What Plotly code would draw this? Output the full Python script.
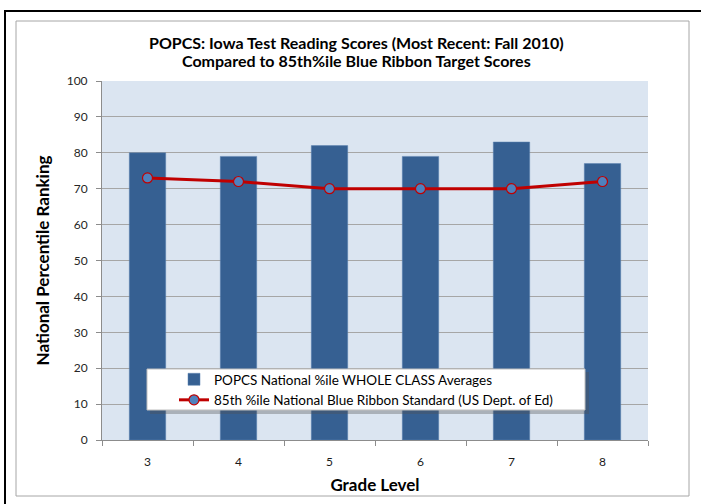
import plotly.graph_objects as go

grades = ["3", "4", "5", "6", "7", "8"]
class_avg = [80, 79, 82, 79, 83, 77]
blue_ribbon = [73, 72, 70, 70, 70, 72]
y_ticks = [0, 10, 20, 30, 40, 50, 60, 70, 80, 90, 100]
title_lines = ["POPCS: Iowa Test Reading Scores (Most Recent: Fall 2010)",
               "Compared to 85th%ile Blue Ribbon Target Scores"]

W, H = 701, 504
L, R, T, B = 102, 53, 81, 64
PW, PH = W - L - R, H - T - B

def px(x):
    return (x - L) / PW

def py(y):
    return (H - B - y) / PH

FONT = "Lato, 'Open Sans', sans-serif"

fig = go.Figure()
fig.add_trace(go.Bar(
    x=grades, y=class_avg,
    name="POPCS National %ile WHOLE CLASS Averages",
    marker=dict(color="#366092", line=dict(color="#5a80b0", width=0.5)),
))
fig.add_trace(go.Scatter(
    x=grades, y=blue_ribbon, mode="lines+markers",
    name="85th %ile National Blue Ribbon Standard (US Dept. of Ed)",
    line=dict(color="#c00000", width=3),
    marker=dict(color="#4f81bd", size=10, line=dict(color="#c00000", width=1.2)),
))

shapes = [
    dict(type="line", xref="paper", yref="paper", x0=px(4), x1=px(702), y0=py(11), y1=py(11),
         line=dict(color="black", width=2), layer="below"),
    dict(type="line", xref="paper", yref="paper", x0=px(5), x1=px(5), y0=py(10), y1=py(505),
         line=dict(color="black", width=2), layer="below"),
    dict(type="rect", xref="paper", yref="paper", x0=px(16), x1=px(689), y0=py(21), y1=py(496),
         line=dict(color="#a6a6a6", width=1), layer="below"),
    dict(type="rect", xref="paper", yref="paper", x0=px(150), x1=px(589), y0=py(372), y1=py(414),
         fillcolor="rgba(80,80,80,0.35)", line=dict(width=0), layer="above"),
    dict(type="rect", xref="paper", yref="paper", x0=px(147), x1=px(585), y0=py(369), y1=py(410),
         fillcolor="white", line=dict(color="#bfbfbf", width=1), layer="above"),
]

annotations = [
    dict(text="<b>" + title_lines[0] + "</b>", xref="paper", yref="paper",
         x=px(356), y=py(42), xanchor="center", yanchor="middle", showarrow=False,
         font=dict(size=16, family=FONT, color="black")),
    dict(text="<b>" + title_lines[1] + "</b>", xref="paper", yref="paper",
         x=px(356), y=py(61), xanchor="center", yanchor="middle", showarrow=False,
         font=dict(size=16, family=FONT, color="black")),
]

fig.update_layout(
    width=W, height=H,
    margin=dict(l=L, r=R, t=T, b=B, autoexpand=False),
    paper_bgcolor="white",
    plot_bgcolor="#dbe5f1",
    font=dict(family=FONT, color="#262626"),
    bargap=0.6,
    showlegend=True,
    legend=dict(
        x=px(174), y=py(364), xanchor="left", yanchor="top",
        bgcolor="rgba(0,0,0,0)", borderwidth=0,
        font=dict(size=13.5, family=FONT, color="black"),
        tracegroupgap=0, itemwidth=30,
    ),
    shapes=shapes,
    annotations=annotations,
    xaxis=dict(
        type="category", tickson="boundaries", ticks="outside", ticklen=5,
        tickcolor="#8c8c8c", showline=True, linecolor="#8c8c8c", linewidth=1,
        showgrid=False, tickfont=dict(size=12, color="#1a1a1a"), ticklabelstandoff=11,
        title=dict(text="<b>Grade Level</b>", font=dict(size=17, color="black"), standoff=10),
    ),
    yaxis=dict(
        range=[0, 100], tickvals=y_ticks, ticks="outside", ticklen=5,
        tickcolor="#8c8c8c", showline=True, linecolor="#8c8c8c", linewidth=1,
        showgrid=True, gridcolor="#a6a6a6", gridwidth=1, zeroline=False,
        tickfont=dict(size=12, color="#262626"), ticklabelstandoff=6,
        title=dict(text="<b>National Percentile Ranking</b>", font=dict(size=17, color="black"), standoff=12),
    ),
)

fig.write_html("out.html", config={"displayModeBar": False},
               post_script="document.body.style.margin='0';")
